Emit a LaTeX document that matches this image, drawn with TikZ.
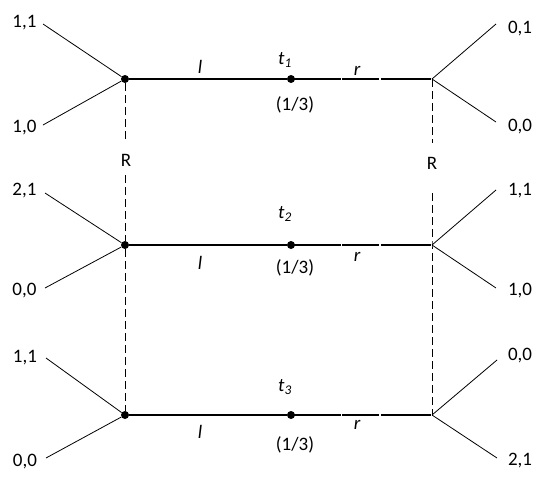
\documentclass[tikz,border=0pt]{standalone}
\usepackage{fontspec}
\setmainfont{Carlito}
\usepackage{tikz}
\usetikzlibrary{positioning}

\begin{document}
\begin{tikzpicture}[x=1pt,y=-1pt,
  decnode/.style={circle,fill=black,inner sep=0pt,minimum size=8pt},
  pay/.style={font=\fontsize{19}{22}\selectfont,anchor=base,inner sep=0pt},
  lbl/.style={font=\fontsize{19}{22}\selectfont\itshape,inner sep=0pt},
  branch/.style={line width=0.8pt},
  move/.style={line width=1.4pt},
  gapline/.style={line width=1.4pt,dash pattern=on 50pt off 1.3pt on 37pt off 1.3pt},
  infoset/.style={line width=0.9pt,dash pattern=on 8pt off 4pt}]
\useasboundingbox (0,0) rectangle (553,490);
% decision nodes
\node[decnode] (a1) at (125,79) {};
\node[decnode] (a2) at (125,245) {};
\node[decnode] (a3) at (125,415) {};
\node[decnode] (t1) at (291,79) {};
\node[decnode] (t2) at (291,245) {};
\node[decnode] (t3) at (291,415) {};
\coordinate (b1) at (432,79);
\coordinate (b2) at (432,245);
\coordinate (b3) at (432,415);
% ends of the terminal branches
\coordinate (la1) at (43,24);  \coordinate (lb1) at (43,125);
\coordinate (la2) at (45,193); \coordinate (lb2) at (45,288);
\coordinate (la3) at (46,358); \coordinate (lb3) at (46,458);
\coordinate (ra1) at (496,24); \coordinate (rb1) at (496,122);
\coordinate (ra2) at (496,190); \coordinate (rb2) at (496,288);
\coordinate (ra3) at (497,360); \coordinate (rb3) at (497,458);
% payoffs
\node[pay] (pla1) at (24.5,27) {1,1};
\node[pay] (plb1) at (24.5,132) {1,0};
\node[pay] (pla2) at (24.5,195) {2,1};
\node[pay] (plb2) at (24.5,295) {0,0};
\node[pay] (pla3) at (25,362) {1,1};
\node[pay] (plb3) at (25,466) {0,0};
\node[pay] (pra1) at (520,33) {0,1};
\node[pay] (prb1) at (520,131) {0,0};
\node[pay] (pra2) at (520,195) {1,1};
\node[pay] (prb2) at (520,295) {1,0};
\node[pay] (pra3) at (520,360) {0,0};
\node[pay] (prb3) at (520,465) {2,1};
% branches to payoffs
\draw[branch] (a1) -- (la1) (a1) -- (lb1);
\draw[branch] (a2) -- (la2) (a2) -- (lb2);
\draw[branch] (a3) -- (la3) (a3) -- (lb3);
\draw[branch] (b1) -- (ra1) (b1) -- (rb1);
\draw[branch] (b2) -- (ra2) (b2) -- (rb2);
\draw[branch] (b3) -- (ra3) (b3) -- (rb3);
% moves l and r
\draw[move] (a1) -- (t1);
\draw[move] (a2) -- (t2);
\draw[line width=2.2pt] (a3) -- (t3);
\draw[gapline] (t1.center) -- (b1);
\draw[gapline] (t2.center) -- (b2);
\draw[gapline] (t3.center) -- (b3);
\node[lbl] (l1) at (200,67) {l};
\node[lbl] (l2) at (200,263) {l};
\node[lbl] (l3) at (200,432) {l};
\node[lbl] (r1) at (357,71) {r};
\node[lbl] (r2) at (357,257) {r};
\node[lbl] (r3) at (357,425) {r};
% types and probabilities
\node[lbl] (tl1) at (285,60) {t\textsubscript{1}};
\node[lbl] (tl2) at (285,214) {t\textsubscript{2}};
\node[lbl] (tl3) at (285,387) {t\textsubscript{3}};
\node[pay] (q1) at (295,110) {(1/3)};
\node[pay] (q2) at (295,273) {(1/3)};
\node[pay] (q3) at (295,450) {(1/3)};
% information sets of the receiver
\node[font=\fontsize{19}{22}\selectfont,inner sep=0pt] (Rl) at (126,160) {R};
\node[font=\fontsize{19}{22}\selectfont,inner sep=0pt] (Rr) at (432,163) {R};
\coordinate (dl1) at (125,143); \coordinate (dl2) at (125,175);
\coordinate (dr1) at (432,143); \coordinate (dr2) at (432,193);
\draw[infoset] (a1) -- (dl1);
\draw[infoset] (dl2) -- (a2) -- (a3);
\draw[infoset] (b1) -- (dr1);
\draw[infoset] (dr2) -- (b2) -- (b3);
\end{tikzpicture}
\end{document}
